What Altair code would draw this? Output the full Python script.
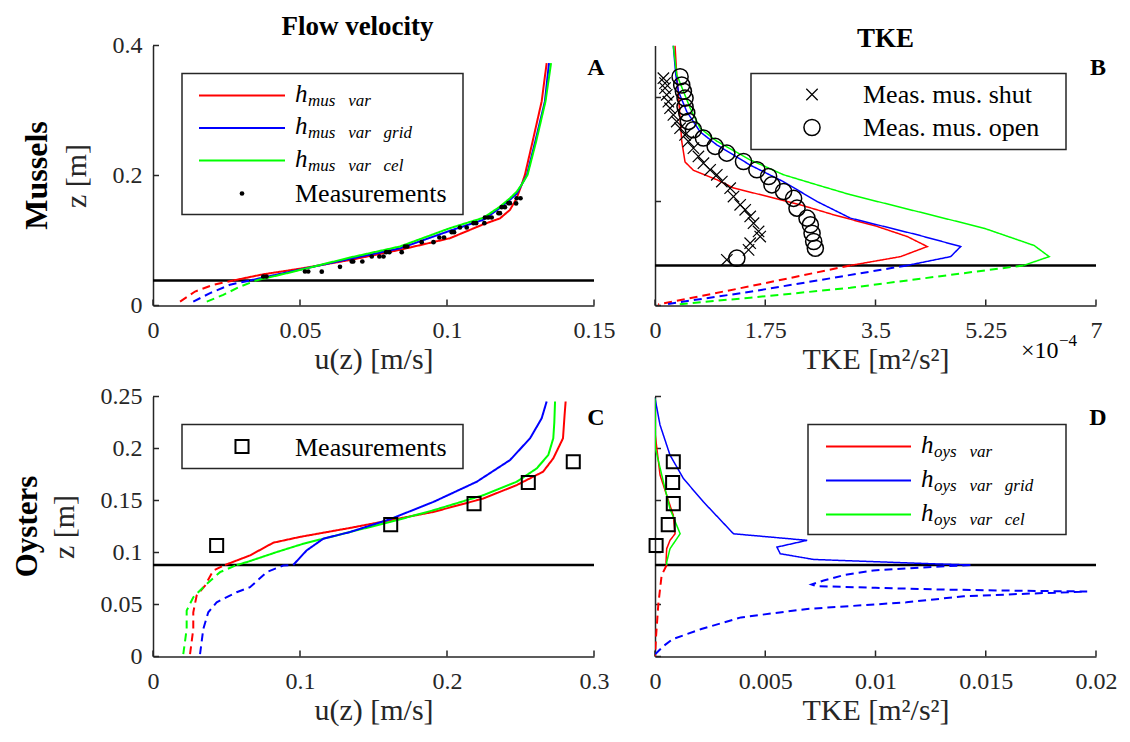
import altair as alt
import pandas as pd

FONT = "Liberation Serif"
AX = "#262626"
RED, BLUE, GREEN = "#ff0000", "#0000ff", "#00ff00"
W, H = 441, 260

A_red_dash_u = [0.0092, 0.0143, 0.0205, 0.0273]
A_red_dash_z = [0.006, 0.0215, 0.0318, 0.0385]
A_red_u = [0.0273, 0.0375, 0.0511, 0.067, 0.084, 0.101, 0.1124, 0.118, 0.1214, 0.1237, 0.1254, 0.1265, 0.1291, 0.1322, 0.1339]
A_red_z = [0.0385, 0.048, 0.0574, 0.070, 0.0857, 0.1035, 0.125, 0.134, 0.147, 0.165, 0.186, 0.201, 0.252, 0.314, 0.373]
A_blue_dash_u = [0.0137, 0.0194, 0.0262, 0.033]
A_blue_dash_z = [0.006, 0.019, 0.032, 0.0385]
A_blue_u = [0.033, 0.0443, 0.067, 0.084, 0.101, 0.1124, 0.118, 0.1214, 0.1237, 0.1254, 0.1272, 0.1300, 0.1333, 0.1347]
A_blue_z = [0.0385, 0.0497, 0.0718, 0.088, 0.115, 0.132, 0.150, 0.1626, 0.172, 0.186, 0.201, 0.252, 0.314, 0.373]
A_green_dash_u = [0.0183, 0.0239, 0.0296, 0.035]
A_green_dash_z = [0.006, 0.0164, 0.029, 0.0385]
A_green_u = [0.035, 0.0466, 0.067, 0.084, 0.101, 0.1124, 0.118, 0.1214, 0.1237, 0.1254, 0.1274, 0.1303, 0.1335, 0.1354]
A_green_z = [0.0385, 0.0508, 0.0738, 0.0908, 0.119, 0.135, 0.152, 0.165, 0.175, 0.186, 0.201, 0.252, 0.314, 0.373]
A_meas_u = [0.0375, 0.0386, 0.0517, 0.0528, 0.0574, 0.0636, 0.0676, 0.0681, 0.0712, 0.0744, 0.0770, 0.0784,
            0.0793, 0.0804, 0.0846, 0.0857, 0.0865, 0.0914, 0.0954, 0.0974, 0.0990, 0.1016, 0.1024, 0.1044,
            0.1067, 0.1090, 0.1099, 0.1127, 0.1129, 0.1140, 0.1152, 0.1175, 0.1180, 0.1186, 0.1197, 0.1209,
            0.1214, 0.1235, 0.1237, 0.1250]
A_meas_z = [0.0446, 0.0446, 0.0523, 0.0523, 0.0520, 0.0595, 0.0677, 0.0677, 0.0677, 0.0754, 0.0754, 0.0754,
            0.0820, 0.0820, 0.0820, 0.0908, 0.0908, 0.0974, 0.0974, 0.1046, 0.1046, 0.1128, 0.1128, 0.1200,
            0.1200, 0.1266, 0.1266, 0.1266, 0.1354, 0.1354, 0.1354, 0.1420, 0.1420, 0.1513, 0.1513, 0.1574,
            0.1574, 0.1570, 0.1650, 0.1650]
A_zline = 0.0385

B_red_u = [0.318, 0.345, 0.387, 0.424, 0.477, 0.61, 0.98, 1.246, 1.777, 2.307, 2.837, 3.527, 4.004, 4.322, 3.898, 3.1]
B_red_z = [0.25, 0.222, 0.190, 0.158, 0.138, 0.130, 0.121, 0.113, 0.105, 0.0968, 0.0872, 0.076, 0.0663, 0.0567, 0.047, 0.0385]
B_red_dash_u = [3.1, 1.51, 0.05]
B_red_dash_z = [0.0385, 0.0185, 0.001]
B_blue_u = [0.29, 0.33, 0.371, 0.504, 0.716, 0.98, 1.511, 2.041, 2.572, 3.102, 3.633, 4.163, 4.852, 4.693, 4.0]
B_blue_z = [0.25, 0.222, 0.206, 0.1865, 0.167, 0.1545, 0.135, 0.119, 0.100, 0.084, 0.076, 0.068, 0.0567, 0.047, 0.0385]
B_blue_dash_u = [4.0, 1.51, 0.15]
B_blue_dash_z = [0.0385, 0.0132, 0.001]
B_green_u = [0.29, 0.345, 0.557, 0.716, 0.98, 1.511, 2.041, 2.572, 3.102, 4.163, 5.223, 6.018, 6.257, 5.85]
B_green_z = [0.25, 0.222, 0.190, 0.1705, 0.158, 0.140, 0.1257, 0.116, 0.1065, 0.0904, 0.0743, 0.0577, 0.047, 0.0385]
B_green_dash_u = [5.85, 3.1, 1.51, 0.345]
B_green_dash_z = [0.0385, 0.017, 0.0075, 0.001]
B_shut_u = [0.133, 0.159, 0.159, 0.186, 0.212, 0.239, 0.292, 0.345, 0.398, 0.477, 0.530, 0.610, 0.689, 0.769,
            0.875, 0.981, 1.061, 1.193, 1.246, 1.352, 1.432, 1.511, 1.564, 1.644, 1.670, 1.511, 1.485, 1.140]
B_shut_z = [0.2186, 0.2138, 0.209, 0.2026, 0.196, 0.1897, 0.1833, 0.1769, 0.1705, 0.164, 0.1577, 0.1513, 0.1433,
            0.1368, 0.1305, 0.1257, 0.1192, 0.1128, 0.1048, 0.0968, 0.092, 0.0856, 0.0791, 0.0712, 0.0663, 0.0599,
            0.0535, 0.0439]
B_open_u = [0.398, 0.424, 0.451, 0.477, 0.477, 0.504, 0.530, 0.610, 0.769, 0.955, 1.140, 1.405, 1.617, 1.803,
            1.856, 2.041, 2.200, 2.254, 2.413, 2.466, 2.493, 2.519, 2.545, 1.299]
B_open_z = [0.220, 0.212, 0.206, 0.1994, 0.191, 0.185, 0.177, 0.169, 0.161, 0.153, 0.1465, 0.1385, 0.1305, 0.124,
            0.116, 0.1096, 0.103, 0.0936, 0.084, 0.0776, 0.0695, 0.0615, 0.0551, 0.0455]
B_zline = 0.0385

C_red_dash_u = [0.0252, 0.0274, 0.0274, 0.0297, 0.0354, 0.041, 0.049]
C_red_dash_z = [0.0022, 0.0264, 0.0425, 0.0586, 0.0682, 0.0827, 0.088]
C_red_u = [0.049, 0.066, 0.0818, 0.1, 0.134, 0.1612, 0.1907, 0.2247, 0.2474, 0.2653, 0.2723, 0.2789, 0.280, 0.2807]
C_red_z = [0.088, 0.0972, 0.1094, 0.115, 0.1236, 0.131, 0.139, 0.1519, 0.1648, 0.1776, 0.1905, 0.2098, 0.2323, 0.2452]
C_green_dash_u = [0.0206, 0.0229, 0.0229, 0.0274, 0.0365, 0.0456, 0.0569]
C_green_dash_z = [0.0022, 0.0264, 0.0441, 0.057, 0.0698, 0.0811, 0.088]
C_green_u = [0.0569, 0.0637, 0.0841, 0.1022, 0.134, 0.1612, 0.1907, 0.2247, 0.2474, 0.261, 0.2689, 0.2723, 0.2730, 0.2735]
C_green_z = [0.088, 0.0907, 0.1004, 0.1084, 0.1197, 0.1293, 0.1406, 0.1551, 0.168, 0.1808, 0.1937, 0.2098, 0.225, 0.2452]
C_blue_dash_u = [0.032, 0.0342, 0.0376, 0.0433, 0.0569, 0.066, 0.0773, 0.0886, 0.0954]
C_blue_dash_z = [0.0022, 0.0264, 0.0425, 0.0521, 0.0618, 0.0666, 0.0811, 0.0875, 0.088]
C_blue_u = [0.0954, 0.1045, 0.1158, 0.134, 0.1612, 0.1907, 0.2202, 0.2429, 0.2565, 0.2644, 0.2678]
C_blue_z = [0.088, 0.102, 0.1132, 0.1197, 0.132, 0.1486, 0.168, 0.1889, 0.2098, 0.229, 0.2452]
C_meas_u = [0.0433, 0.1617, 0.2184, 0.2553, 0.2859]
C_meas_z = [0.1068, 0.1268, 0.147, 0.1673, 0.1873]
C_zline = 0.088

D_red_u = [0.0, 0.00023, 0.00053, 0.00083, 0.00091, 0.00068, 0.00053, 0.0005, 0.00053]
D_red_z = [0.215, 0.1744, 0.155, 0.1358, 0.118, 0.1117, 0.1036, 0.0907, 0.088]
D_red_dash_u = [0.00053, 0.0003, 0.00015, 0.00005, 0.0]
D_red_dash_z = [0.088, 0.078, 0.05, 0.02, 0.0]
D_green_u = [0.0, 0.00002, 0.00038, 0.00068, 0.00114, 0.00068, 0.00053, 0.00053]
D_green_z = [0.248, 0.2, 0.168, 0.142, 0.118, 0.1036, 0.0907, 0.088]
D_blue_u = [0.0, 0.000227, 0.00068, 0.00129, 0.0022, 0.00356, 0.0069, 0.00553, 0.00568, 0.0072, 0.01265, 0.0143]
D_blue_z = [0.2484, 0.2227, 0.1937, 0.1711, 0.1486, 0.118, 0.1117, 0.1052, 0.0988, 0.0933, 0.0891, 0.088]
D_blue_dash_u = [0.0143, 0.0120, 0.0099, 0.0086, 0.00765, 0.0071, 0.0073, 0.0100, 0.0130, 0.0165, 0.0196, 0.0170,
                 0.0140, 0.0114, 0.0069, 0.0039, 0.0021, 0.0008, 0.0004, 0.0]
D_blue_dash_z = [0.088, 0.0855, 0.0827, 0.0785, 0.0731, 0.0692, 0.0677, 0.0660, 0.0644, 0.0632, 0.0625, 0.0605,
                 0.0579, 0.0521, 0.0457, 0.0376, 0.0264, 0.0167, 0.0103, 0.002]
D_meas_u = [0.00005, 0.0006, 0.00083, 0.0008, 0.00083]
D_meas_z = [0.1068, 0.1268, 0.147, 0.1673, 0.1873]
D_zline = 0.088

one = pd.DataFrame({"k": [0]})
X_PATH = "M-1,-1L1,1M-1,1L1,-1"


def enc(xdom, ydom, xvals, yvals, xtitle, ytitle, ylabels):
    xs = alt.Scale(domain=xdom, nice=False, zero=False)
    ys = alt.Scale(domain=ydom, nice=False, zero=False)
    xa = alt.Axis(values=xvals, labelExpr="'' + datum.value", ticks=False, grid=False, domainColor=AX,
                  domainWidth=1.5, labelFont=FONT, labelFontSize=24, labelColor=AX, labelPadding=13,
                  labelFlush=False, labelOverlap=False, titleFont=FONT, titleFontSize=30,
                  titleFontWeight="normal", titleColor=AX, titlePadding=2)
    ya = alt.Axis(values=yvals, labelExpr="'' + datum.value", ticks=False, grid=False, domainColor=AX,
                  domainWidth=1.5, labels=ylabels, labelFont=FONT, labelFontSize=24, labelColor=AX,
                  labelPadding=11, labelFlush=False, labelOverlap=False, titleFont=FONT, titleFontSize=30,
                  titleFontWeight="normal", titleColor=AX, titlePadding=21)
    X = lambda: alt.X("x:Q", scale=xs, axis=xa, title=xtitle)
    Y = lambda: alt.Y("z:Q", scale=ys, axis=ya, title=ytitle)
    return X, Y


def line(X, Y, xs, zs, color, dashed, width):
    df = pd.DataFrame({"x": xs, "z": zs, "i": list(range(len(xs)))})
    m = alt.Chart(df).mark_line(color=color, strokeWidth=width, clip=True,
                                strokeDash=[8, 5] if dashed else [1, 0])
    return m.encode(x=X(), y=Y(), order="i:Q")


def points(X, Y, xs, zs, **kw):
    df = pd.DataFrame({"x": xs, "z": zs})
    return alt.Chart(df).mark_point(**kw).encode(x=X(), y=Y())


def frame(X, Y, xvals, yvals, zline):
    tx = alt.Chart(pd.DataFrame({"x": xvals})).mark_rule(color=AX, strokeWidth=1.5).encode(
        x=X(), y=alt.value(H), y2=alt.value(H - 6))
    ty = alt.Chart(pd.DataFrame({"z": yvals})).mark_rule(color=AX, strokeWidth=1.5).encode(
        y=Y(), x=alt.value(0), x2=alt.value(6))
    zl = alt.Chart(pd.DataFrame({"z": [zline]})).mark_rule(color="black", strokeWidth=2.5).encode(y=Y())
    return [tx, ty, zl]


def txt(s, x, y, size=26, style="normal", weight="normal", align="left", baseline="alphabetic", angle=0):
    return alt.Chart(one).mark_text(text=s, font=FONT, fontSize=size, fontStyle=style, fontWeight=weight,
                                    align=align, baseline=baseline, angle=angle, color="black").encode(
        x=alt.value(x), y=alt.value(y))


def box(x0, y0, x1, y1):
    return alt.Chart(one).mark_rect(fill="white", stroke=AX, strokeWidth=1.5).encode(
        x=alt.value(x0), x2=alt.value(x1), y=alt.value(y0), y2=alt.value(y1))


def sample(x0, x1, y, color):
    return alt.Chart(one).mark_rule(color=color, strokeWidth=2).encode(
        x=alt.value(x0), x2=alt.value(x1), y=alt.value(y))


def hlabel(x, y, sub):
    return [txt("h", x, y + 6, size=25, style="italic"),
            txt(sub, x + 13, y + 10, size=17, style="italic")]


SP = "\u2002 "


def title(s, dx):
    return alt.Title(s, font=FONT, fontSize=27, fontWeight="bold", color="black", offset=-7.5, dx=dx)


# ---- Panel A
xv, yv = [0, 0.05, 0.1, 0.15], [0, 0.2, 0.4]
X, Y = enc([0, 0.15], [0, 0.4], xv, yv, "u(z)  [m/s]", "z  [m]", True)
layers = frame(X, Y, xv, yv, A_zline)
for (du, dz, su, sz, c) in [(A_red_dash_u, A_red_dash_z, A_red_u, A_red_z, RED),
                            (A_blue_dash_u, A_blue_dash_z, A_blue_u, A_blue_z, BLUE),
                            (A_green_dash_u, A_green_dash_z, A_green_u, A_green_z, GREEN)]:
    layers += [line(X, Y, du, dz, c, True, 2), line(X, Y, su, sz, c, False, 2)]
layers.append(points(X, Y, A_meas_u, A_meas_z, shape="circle", filled=True, color="black", size=22, opacity=1))
layers.append(box(29, 28, 310, 169))
for k, (c, s) in enumerate([(RED, "mus" + SP + "var"), (BLUE, "mus" + SP + "var" + SP + "grid"),
                            (GREEN, "mus" + SP + "var" + SP + "cel")]):
    yy = 50 + 32.5 * k
    layers += [sample(46, 132, yy, c)] + hlabel(142, yy, s)
layers.append(alt.Chart(one).mark_point(shape="circle", filled=True, color="black", size=22, opacity=1).encode(
    x=alt.value(89), y=alt.value(148)))
layers.append(txt("Measurements", 142, 156))
layers.append(txt("A", 443, 29, size=24, weight="bold", align="center"))
layers.append(txt("Mussels", -116, H / 2, size=32, weight="bold", align="center", baseline="middle", angle=270))
panelA = alt.layer(*layers).properties(width=W, height=H, title=title("Flow velocity", -16))

# ---- Panel B
xv, yv = [0, 1.75, 3.5, 5.25, 7], [0, 0.1, 0.2]
X, Y = enc([0, 7], [0, 0.25], xv, yv, "TKE  [m²/s²]", None, False)
layers = frame(X, Y, xv, yv, B_zline)
for (du, dz, su, sz, c) in [(B_red_dash_u, B_red_dash_z, B_red_u, B_red_z, RED),
                            (B_blue_dash_u, B_blue_dash_z, B_blue_u, B_blue_z, BLUE),
                            (B_green_dash_u, B_green_dash_z, B_green_u, B_green_z, GREEN)]:
    layers += [line(X, Y, du, dz, c, True, 2), line(X, Y, su, sz, c, False, 1.5)]
layers.append(points(X, Y, B_shut_u, B_shut_z, shape=X_PATH, filled=False, color="black", size=130, strokeWidth=1.2, opacity=1))
layers.append(points(X, Y, B_open_u, B_open_z, shape="circle", filled=False, color="black", size=260, strokeWidth=1.5, opacity=1))
layers.append(box(96, 28, 411, 104))
layers.append(alt.Chart(one).mark_point(shape=X_PATH, filled=False, color="black", size=130, strokeWidth=1.2, opacity=1).encode(
    x=alt.value(157), y=alt.value(49)))
layers.append(alt.Chart(one).mark_point(shape="circle", filled=False, color="black", size=260, strokeWidth=1.5, opacity=1).encode(
    x=alt.value(157), y=alt.value(82)))
layers.append(txt("Meas.  mus.  shut", 208, 57))
layers.append(txt("Meas.  mus.  open", 208, 90))
layers.append(txt("B", 443, 29, size=24, weight="bold", align="center"))
layers.append(txt("×10", 366, 312, size=24))
layers.append(txt("−4", 404, 300, size=17))
panelB = alt.layer(*layers).properties(width=W, height=H, title=title("TKE", 10))

# ---- Panel C
xv, yv = [0, 0.1, 0.2, 0.3], [0, 0.05, 0.1, 0.15, 0.2, 0.25]
X, Y = enc([0, 0.3], [0, 0.25], xv, yv, "u(z)  [m/s]", "z  [m]", True)
layers = frame(X, Y, xv, yv, C_zline)
for (du, dz, su, sz, c) in [(C_red_dash_u, C_red_dash_z, C_red_u, C_red_z, RED),
                            (C_green_dash_u, C_green_dash_z, C_green_u, C_green_z, GREEN),
                            (C_blue_dash_u, C_blue_dash_z, C_blue_u, C_blue_z, BLUE)]:
    layers += [line(X, Y, du, dz, c, True, 2), line(X, Y, su, sz, c, False, 2)]
layers.append(points(X, Y, C_meas_u, C_meas_z, shape="square", filled=False, color="black", size=170, strokeWidth=2, opacity=1))
layers.append(box(29, 28, 310, 72))
layers.append(alt.Chart(one).mark_point(shape="square", filled=False, color="black", size=170, strokeWidth=2, opacity=1).encode(
    x=alt.value(89), y=alt.value(50)))
layers.append(txt("Measurements", 142, 59))
layers.append(txt("C", 443, 28, size=24, weight="bold", align="center"))
layers.append(txt("Oysters", -125, H / 2, size=31, weight="bold", align="center", baseline="middle", angle=270))
panelC = alt.layer(*layers).properties(width=W, height=H)

# ---- Panel D
xv, yv = [0, 0.005, 0.01, 0.015, 0.02], [0, 0.05, 0.1, 0.15, 0.2, 0.25]
X, Y = enc([0, 0.02], [0, 0.25], xv, yv, "TKE  [m²/s²]", None, False)
layers = frame(X, Y, xv, yv, D_zline)
layers += [line(X, Y, D_blue_dash_u, D_blue_dash_z, BLUE, True, 2),
           line(X, Y, D_red_dash_u, D_red_dash_z, RED, True, 2),
           line(X, Y, D_blue_u, D_blue_z, BLUE, False, 1.5),
           line(X, Y, D_red_u, D_red_z, RED, False, 1.5),
           line(X, Y, D_green_u, D_green_z, GREEN, False, 1.5)]
layers.append(points(X, Y, D_meas_u, D_meas_z, shape="square", filled=False, color="black", size=170, strokeWidth=2, opacity=1))
layers.append(box(153, 28, 411, 138))
for k, (c, s) in enumerate([(RED, "oys" + SP + "var"), (BLUE, "oys" + SP + "var" + SP + "grid"),
                            (GREEN, "oys" + SP + "var" + SP + "cel")]):
    yy = 50 + 34 * k
    layers += [sample(171, 256, yy, c)] + hlabel(266, yy, s)
layers.append(txt("D", 443, 28, size=24, weight="bold", align="center"))
panelD = alt.layer(*layers).properties(width=W, height=H)

chart = alt.concat(panelA, panelB, panelC, panelD, columns=2, spacing={"row": 91, "column": 61},
                   bounds="flush").properties(
    padding={"left": 4, "top": 4.5, "right": 5, "bottom": 5}, background="white"
).configure_view(stroke=None).configure_axis(labelFont=FONT, titleFont=FONT)

chart.save("out.html", embed_options={"renderer": "svg", "actions": False})
